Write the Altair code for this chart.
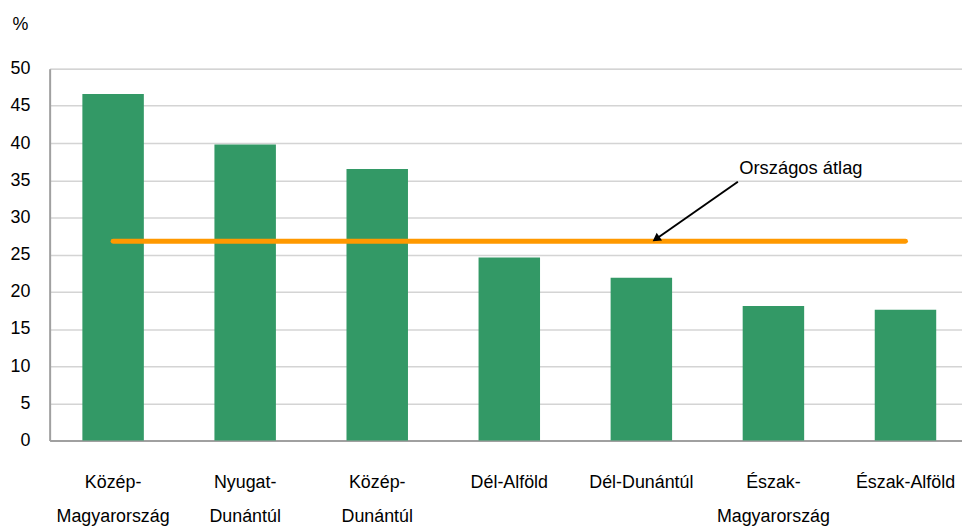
import altair as alt
import pandas as pd

# Data
regions = ["Közép-|Magyarország", "Nyugat-|Dunántúl", "Közép-|Dunántúl",
           "Dél-Alföld", "Dél-Dunántúl", "Észak-|Magyarország", "Észak-Alföld"]
shares = [46.6, 39.8, 36.5, 24.6, 21.9, 18.1, 17.6]
national_avg = 26.8
avg_label = "Országos átlag"
y_ticks = [0, 5, 10, 15, 20, 25, 30, 35, 40, 45, 50]

# annotation positions in category-index units (0 = first category centre)
arrow_tail = (4.731, 34.8)
arrow_head = (4.111, 27.1)
label_pos = (5.208, 36.6)
x_index_domain = [-0.4806, 6.428]

FONT = "Liberation Sans"

bars_df = pd.DataFrame({"region": regions, "share": shares})
avg_df = pd.DataFrame({"region": regions, "avg": [national_avg] * len(regions)})
arrow_df = pd.DataFrame({"x": [arrow_tail[0]], "y": [arrow_tail[1]],
                         "x2": [arrow_head[0]], "y2": [arrow_head[1]]})
head_df = pd.DataFrame({"x": [arrow_head[0]], "y": [arrow_head[1]]})
text_df = pd.DataFrame({"x": [label_pos[0]], "y": [label_pos[1]], "t": [avg_label]})

y_scale = alt.Scale(domain=[0, 50], nice=False)
x_band = alt.Scale(paddingInner=0.5345, paddingOuter=0.2215, align=0.5593)

y_axis = alt.Axis(values=y_ticks, ticks=False, tickSize=0,
                  labelPadding=20, labelFont=FONT, labelFontSize=18,
                  labelOverlap=False,
                  labelColor="#000000", grid=True, gridColor="#d4d4d4",
                  gridWidth=1.5, domainColor="#a0a0a0", domainWidth=2,
                  title="%", titleAngle=0, titleX=-30, titleY=-44,
                  titleAlign="center", titleBaseline="middle",
                  titleFont=FONT, titleFontSize=18, titleFontWeight="normal",
                  titleColor="#000000")

bars = alt.Chart(bars_df).mark_bar(color="#339966").encode(
    x=alt.X("region:N", sort=regions, scale=x_band,
            axis=alt.Axis(title=None, labelAngle=0, ticks=False,
                          labelExpr="split(datum.label, '|')",
                          labelFont=FONT, labelFontSize=18, labelColor="#000000",
                          labelLineHeight=35, labelPadding=33, labelOverlap=False,
                          domainColor="#a0a0a0", domainWidth=2, grid=False)),
    y=alt.Y("share:Q", scale=y_scale, axis=y_axis),
)

avg_line = alt.Chart(avg_df).mark_line(color="#FF9900", strokeWidth=5, strokeCap="round").encode(
    x=alt.X("region:N", sort=regions, scale=x_band),
    y=alt.Y("avg:Q", scale=y_scale, axis=y_axis),
)

xq = alt.Scale(domain=x_index_domain, nice=False, zero=False)

arrow = alt.Chart(arrow_df).mark_rule(color="#000000", strokeWidth=2).encode(
    x=alt.X("x:Q", scale=xq, axis=None),
    y=alt.Y("y:Q", scale=y_scale, axis=y_axis),
    x2="x2:Q",
    y2="y2:Q",
)

head = alt.Chart(head_df).mark_point(shape="triangle-up", filled=True, color="#000000",
                                     size=90, angle=235, opacity=1).encode(
    x=alt.X("x:Q", scale=xq, axis=None),
    y=alt.Y("y:Q", scale=y_scale, axis=y_axis),
)

label = alt.Chart(text_df).mark_text(font=FONT, fontSize=18.5, color="#000000",
                                     align="center", baseline="middle").encode(
    x=alt.X("x:Q", scale=xq, axis=None),
    y=alt.Y("y:Q", scale=y_scale, axis=y_axis),
    text="t:N",
)

base = alt.layer(bars, avg_line)
annot = alt.layer(arrow, head, label)

chart = alt.layer(base, annot).resolve_scale(x="independent").properties(
    width=920, height=375,
    autosize=alt.AutoSizeParams(type="none"),
    padding={"left": 42, "top": 59, "right": 0, "bottom": 87},
).configure_view(strokeWidth=0, stroke="transparent").configure(background="#ffffff")

chart.save("out.html", embed_options={"renderer": "svg", "actions": False})
